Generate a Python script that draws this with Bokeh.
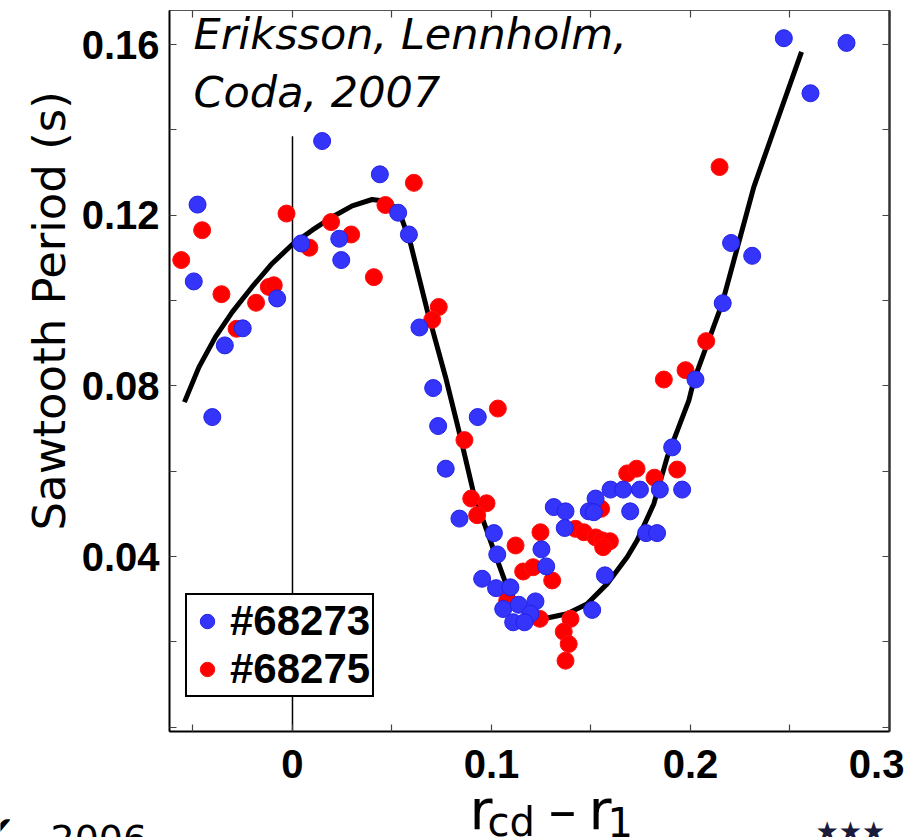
import math
from bokeh.plotting import figure
from bokeh.layouts import column
from bokeh.models import (Range1d, LinearAxis, FixedTicker, Label, Legend,
                          LegendItem, CustomJSTickFormatter, Title)
from bokeh.embed import file_html
from bokeh.resources import INLINE

# ---------------- data ----------------
blue_x = [-0.0477, -0.0496, -0.0403, -0.0340, -0.0250, -0.0077, 0.0044, 0.0149,
          0.0235, 0.0245, 0.0439, 0.0531, 0.0585, 0.0638, 0.0707, 0.0732, 0.0770,
          0.0839, 0.0931, 0.1012, 0.1029, 0.0953, 0.1023, 0.1095, 0.1059, 0.1137,
          0.1221, 0.1196, 0.1109, 0.1166, 0.1251, 0.1275, 0.1313, 0.1372, 0.1368,
          0.1523, 0.1489, 0.1514, 0.1598, 0.1662, 0.1746, 0.1846, 0.1958, 0.1697,
          0.1777, 0.1832, 0.1570, 0.1506, 0.1908, 0.2025, 0.2162, 0.2204, 0.2310,
          0.2469, 0.2603, 0.2784]
blue_y = [0.1225, 0.1045, 0.0727, 0.0895, 0.0935, 0.1005, 0.1134, 0.1374,
          0.1145, 0.1095, 0.1296, 0.1206, 0.1155, 0.0937, 0.0795, 0.0706, 0.0606,
          0.0489, 0.0727, 0.0455, 0.0405, 0.0348, 0.0326, 0.0328, 0.0277, 0.0287,
          0.0295, 0.0266, 0.0246, 0.0246, 0.0417, 0.0377, 0.0516, 0.0506, 0.0467,
          0.0536, 0.0506, 0.0504, 0.0557, 0.0557, 0.0557, 0.0557, 0.0557, 0.0506,
          0.0455, 0.0455, 0.0356, 0.0275, 0.0656, 0.0815, 0.0994, 0.1135, 0.1105,
          0.1615, 0.1486, 0.1604]

red_x = [-0.0559, -0.0454, -0.0357, -0.0281, -0.0183, -0.0119, -0.0094, -0.0030,
         0.0085, 0.0194, 0.0295, 0.0409, 0.0467, 0.0610, 0.0735, 0.0702, 0.0864,
         0.0898, 0.0975, 0.0928, 0.1032, 0.1121, 0.1246, 0.1159, 0.1209, 0.1305,
         0.1079, 0.1243, 0.1397, 0.1363, 0.1388, 0.1372, 0.1422, 0.1464, 0.1523,
         0.1556, 0.1595, 0.1561, 0.1551, 0.1682, 0.1729, 0.1819, 0.1933, 0.1866,
         0.1975, 0.2079, 0.2146]
red_y = [0.1095, 0.1165, 0.1015, 0.0934, 0.0995, 0.1032, 0.1036, 0.1204,
         0.1124, 0.1184, 0.1155, 0.1055, 0.1224, 0.1276, 0.0985, 0.0955, 0.0673,
         0.0536, 0.0525, 0.0497, 0.0747, 0.0426, 0.0457, 0.0365, 0.0375, 0.0344,
         0.0297, 0.0254, 0.0254, 0.0224, 0.0195, 0.0156, 0.0465, 0.0457, 0.0445,
         0.0438, 0.0436, 0.0422, 0.0512, 0.0595, 0.0606, 0.0585, 0.0604, 0.0815,
         0.0837, 0.0905, 0.1313]

fit_x = [-0.0543, -0.0470, -0.0387, -0.0303, -0.0203, -0.0102, 0.0, 0.0099,
         0.0200, 0.0300, 0.0400, 0.0470, 0.0534, 0.0593, 0.0677, 0.0769, 0.0844,
         0.0911, 0.1012, 0.1079, 0.1129, 0.1200, 0.1280, 0.1380, 0.1480, 0.1581,
         0.1682, 0.1732, 0.1816, 0.1883, 0.1992, 0.2017, 0.2159, 0.2318, 0.2438,
         0.2558]
fit_y = [0.0762, 0.0844, 0.0915, 0.0973, 0.1032, 0.1087, 0.1132, 0.1165,
         0.1196, 0.1222, 0.1237, 0.1233, 0.1212, 0.1134, 0.0977, 0.0821, 0.0680,
         0.0547, 0.0414, 0.0328, 0.0289, 0.0266, 0.0256, 0.0266, 0.0289, 0.0336,
         0.0399, 0.0438, 0.0524, 0.0633, 0.0766, 0.0813, 0.0993, 0.1266, 0.1425,
         0.1583]

series_labels = ["#68273", "#68275"]
x_ticks = [0.0, 0.1, 0.2, 0.3]
x_minor = [-0.05, 0.05, 0.15, 0.25]
x_edge_tick = 0.3
y_ticks = [0.04, 0.08, 0.12, 0.16]
y_minor = [0.0, 0.02, 0.06, 0.10, 0.14]
zero_line_x = 0.0
zero_line_top = 0.1385
title_lines = ["Eriksson, Lennholm,", "Coda, 2007"]
y_title = "Sawtooth Period (s)"

X_MIN, X_MAX = -0.0618, 0.3
Y_MIN, Y_MAX = -0.001, 0.168

BOLD_FONT = "Liberation Sans"
LIGHT_FONT = "DejaVu Sans"

p = figure(width=915, height=790, output_backend="svg", toolbar_location=None,
           x_range=Range1d(X_MIN, X_MAX), y_range=Range1d(Y_MIN, Y_MAX),
           x_axis_type=None, y_axis_type=None,
           min_border_left=169, min_border_right=26, min_border_top=10,
           min_border_bottom=59)
p.frame_align = False
p.title.visible = False
p.xgrid.visible = False
p.ygrid.visible = False
p.outline_line_color = "black"
p.outline_line_width = 1
p.background_fill_color = "white"
p.border_fill_color = "white"

plain_fmt = CustomJSTickFormatter(code="return tick.toString();")
edge_fmt = CustomJSTickFormatter(
    args=dict(edge=x_edge_tick),
    code="if (Math.abs(tick - edge) < 1e-9) { return tick.toString() + '\\u00a0'; } "
         "return tick.toString();")
blank_fmt = CustomJSTickFormatter(code="return '';")


def make_axis(ticks, minor, formatter, lw, color="black", labels=True):
    ax = LinearAxis(ticker=FixedTicker(ticks=ticks, minor_ticks=minor))
    ax.formatter = formatter
    ax.major_tick_in = 7
    ax.major_tick_out = 0
    ax.minor_tick_in = 7
    ax.minor_tick_out = 0
    ax.major_tick_line_color = "#444444"
    ax.minor_tick_line_color = "#444444"
    ax.major_tick_line_width = 1.2
    ax.minor_tick_line_width = 1.2
    ax.axis_line_color = color
    ax.axis_line_width = lw
    if labels:
        ax.major_label_text_font = BOLD_FONT
        ax.major_label_text_font_style = "bold"
        ax.major_label_text_font_size = "40px"
        ax.major_label_text_color = "black"
        ax.major_label_standoff = 10
    else:
        ax.major_label_text_font_size = "1px"
        ax.major_label_standoff = 0
    return ax


left = make_axis(y_ticks, y_minor, plain_fmt, 2)
bottom = make_axis(x_ticks, x_minor, edge_fmt, 2)
right = make_axis(y_ticks, y_minor, blank_fmt, 2.5, "#333333", labels=False)
top = make_axis(x_ticks, x_minor, blank_fmt, 1, "#555555", labels=False)
p.add_layout(left, "left")
p.add_layout(bottom, "below")
p.add_layout(right, "right")
p.add_layout(top, "above")

# y axis title (placed outside the axis, starting above the frame bottom)
p.add_layout(Title(text=y_title, align="left", offset=201, text_font=LIGHT_FONT,
                   text_font_size="45px", text_font_style="normal",
                   text_color="black", standoff=6), "left")

# vertical reference line at x = 0
p.segment(x0=[zero_line_x], y0=[Y_MIN], x1=[zero_line_x], y1=[zero_line_top],
          line_color="black", line_width=1.5)

# fit curve
p.line(fit_x, fit_y, line_color="black", line_width=5, line_join="round")

r_red = p.scatter(red_x, red_y, size=17, fill_color="#ff0000",
                  line_color="#ff1010", line_width=1)
r_blue = p.scatter(blue_x, blue_y, size=17, fill_color="#3434fa",
                   line_color="#2222e6", line_width=1)

legend = Legend(items=[LegendItem(label=series_labels[0], renderers=[r_blue]),
                       LegendItem(label=series_labels[1], renderers=[r_red])],
                location=(16, 34), orientation="vertical",
                label_text_font=BOLD_FONT, label_text_font_style="bold",
                label_text_font_size="42px", label_text_color="black",
                border_line_color="black", border_line_width=2,
                border_line_alpha=1.0,
                background_fill_color="white", background_fill_alpha=1.0,
                padding=2, spacing=0, margin=0,
                glyph_width=36, glyph_height=40, label_standoff=5)
p.add_layout(legend)

# title text in plot
for i, line in enumerate(title_lines):
    p.add_layout(Label(x=24, y=673 - 58 * i, x_units="screen", y_units="screen",
                       text=line, text_font=LIGHT_FONT,
                       text_font_style="italic", text_font_size="43px",
                       text_color="black"))

# ---------- bottom strip: x-axis title and slide fragments ----------
STRIP_TOP, PAGE_H, PAGE_W = 790, 837, 915
s = figure(width=PAGE_W, height=PAGE_H - STRIP_TOP, output_backend="svg",
           toolbar_location=None,
           x_range=Range1d(0, PAGE_W), y_range=Range1d(PAGE_H, STRIP_TOP),
           x_axis_type=None, y_axis_type=None,
           min_border_left=0, min_border_right=0, min_border_top=0,
           min_border_bottom=0)
s.frame_align = False
s.title.visible = False
s.xgrid.visible = False
s.ygrid.visible = False
s.outline_line_color = None
s.background_fill_color = "white"
s.border_fill_color = "white"

xt_parts = [("r", 469, 809, "56px"), ("cd", 487, 821, "40px"),
            ("\u2013", 548, 809, "56px"), ("r", 588, 809, "56px"),
            ("1", 607, 821, "40px")]
for txt, sx, sy, fs in xt_parts:
    s.add_layout(Label(x=sx, y=sy, text=txt, text_font=LIGHT_FONT,
                       text_font_size=fs, text_color="black",
                       text_baseline="alphabetic"))

s.add_layout(Label(x=-18, y=851, text="\u2714", text_font=LIGHT_FONT,
                   text_font_size="38px", text_color="black"))
s.add_layout(Label(x=50, y=851, text="2006", text_font=LIGHT_FONT,
                   text_font_size="38px", text_color="black"))
s.add_layout(Label(x=815, y=845, text="\u2605\u2605\u2605", text_font=LIGHT_FONT,
                   text_font_size="26px", text_color="#1a1a3a"))

layout = column(p, s, spacing=0)
open("out.html", "w").write(file_html(layout, INLINE))
